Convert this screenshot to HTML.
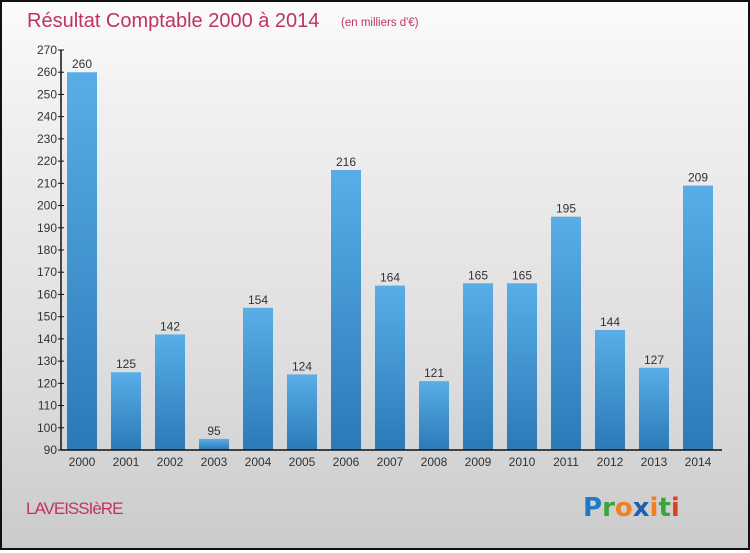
<!DOCTYPE html>
<html><head><meta charset="utf-8"><style>
body{margin:0;width:750px;height:550px;overflow:hidden}
#c{position:relative;width:746px;height:546px;border:2px solid #111;background:linear-gradient(#fbfbfb,#f0f0f0 20%,#dcdcdc 70%,#cbcbcb);font-family:"Liberation Sans",sans-serif}
</style></head><body>
<div id="c">
<svg id="s" width="746" height="546"></svg>
</div>
<script>
const categories=["2000","2001","2002","2003","2004","2005","2006","2007","2008","2009","2010","2011","2012","2013","2014"];
const values=[260,125,142,95,154,124,216,164,121,165,165,195,144,127,209];
const yTicks=[90,100,110,120,130,140,150,160,170,180,190,200,210,220,230,240,250,260,270];
const ns="http://www.w3.org/2000/svg";
const s=document.getElementById('s');
const ox=-2,oy=-2;
const y=v=>oy+450-(v-90)*400/180;
const x=i=>ox+82+i*44;
function el(t,a,txt){const e=document.createElementNS(ns,t);for(const k in a)e.setAttribute(k,a[k]);if(txt!==undefined)e.textContent=txt;s.appendChild(e);return e;}
const defs=el('defs',{});
defs.innerHTML='<linearGradient id="g" x1="0" y1="0" x2="0" y2="1"><stop offset="0" stop-color="#5aade6"/><stop offset="1" stop-color="#2a7ab8"/></linearGradient>';
let t=el('text',{x:ox+27,y:oy+27,'font-size':20,fill:'#c0335f'},'Résultat Comptable 2000 à 2014');

t=el('text',{x:ox+341,y:oy+26,'font-size':11.5,fill:'#c0335f'},'(en milliers d\'€)');

values.forEach((v,i)=>{
 const r=el('rect',{x:x(i)-15,y:y(v),width:30,height:y(90)-y(v),fill:'url(#g)'});
 
 const l=el('text',{x:x(i),y:y(v)-4,'font-size':12,fill:'#333','text-anchor':'middle'},v);
 
 const c=el('text',{x:x(i),y:oy+466,'font-size':12,fill:'#333','text-anchor':'middle'},categories[i]);
 
});
const ax=el('line',{x1:ox+61,y1:y(270),x2:ox+61,y2:y(90),stroke:'#111','stroke-width':1.5});

const bx=el('line',{x1:ox+61,y1:y(90),x2:ox+722,y2:y(90),stroke:'#111','stroke-width':1.5});

yTicks.forEach(v=>{
 el('line',{x1:ox+58,y1:y(v),x2:ox+64,y2:y(v),stroke:'#111'});
 const l=el('text',{x:ox+57,y:y(v)+4,'font-size':12,fill:'#333','text-anchor':'end'},v);
 
});
t=el('text',{x:ox+26,y:oy+514,'font-size':17,fill:'#c0335f','letter-spacing':'-1'},'LAVEISSIèRE');

const logo=el('text',{x:ox+583,y:oy+516,'font-size':26,'font-weight':'bold','font-family':'"DejaVu Sans",sans-serif'});
logo.innerHTML='<tspan fill="#1f78c8">P</tspan><tspan fill="#3aa63a">r</tspan><tspan fill="#f08020">o</tspan><tspan fill="#1f5fb0">x</tspan><tspan fill="#f08020">i</tspan><tspan fill="#3aa63a">t</tspan><tspan fill="#e04020">i</tspan>';

</script>
</body></html>
